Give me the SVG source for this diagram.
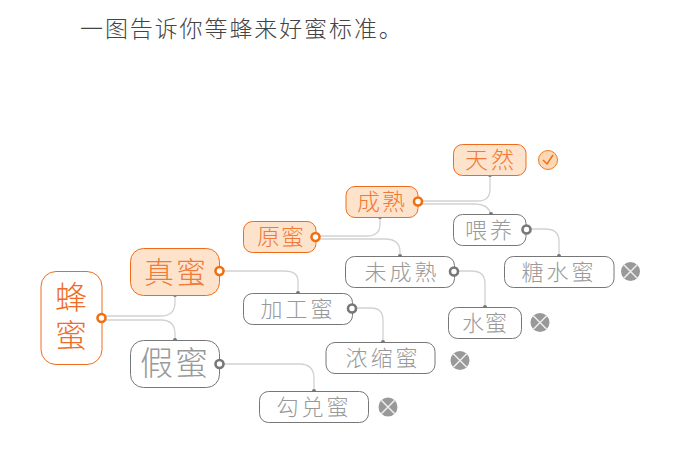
<svg xmlns="http://www.w3.org/2000/svg" width="683" height="453" viewBox="0 0 683 453">
<defs>
<g id="x"><circle r="9.5" fill="#999"/><path d="M-6.700-6.700L6.700 6.700M6.700-6.700L-6.700 6.700" stroke="#eee" stroke-width="1.500"/></g>
</defs>
<style>
text{font-family:"Noto Sans CJK SC","Noto Sans CJK JP",sans-serif;text-anchor:middle;font-weight:300}
.t{fill:#444;font-size:23px;text-anchor:start;letter-spacing:1.9px;font-weight:300}
.o rect{fill:#fde3cb;stroke:#ef6c1a;stroke-width:1}
.o text{fill:#f07a38}
.g rect{fill:#fff;stroke:#777;stroke-width:1}
.g text{fill:#999}
.r rect{fill:#fff;stroke:#ef6c1a;stroke-width:1}
.r text{fill:#ef6c28}
.c path{fill:none;stroke:#d2d2d2;stroke-width:1.3}
.d{fill:#777}
.po{fill:#fff;stroke:#f07010;stroke-width:2.6}
.pg{fill:#fff;stroke:#777;stroke-width:2.6}
</style>
<text class="t" x="80" y="37">一图告诉你等蜂来好蜜标准。</text>
<g id="connectors" class="c">
<path d="M102 316H161Q175 316 175 302V295"/>
<path d="M102 320H161Q175 320 175 334V340"/>
<path d="M220 271H284Q298 271 298 281V293"/>
<path d="M220 364H299Q314 364 314 378V391"/>
<path d="M316 236H367Q380 236 380 224V217"/>
<path d="M316 239H385Q400 239 400 252V256"/>
<path d="M418 201H478Q490 201 490 189V175"/>
<path d="M418 204H475Q488 204 491 214"/>
<path d="M352 308H371Q383 308 383 320V342"/>
<path d="M455 271H471Q485 271 485 283V307"/>
<path d="M526 229H545Q559 229 559 241V256"/>
<g class="d">
<circle cx="175" cy="295" r="2"/><circle cx="175" cy="340" r="2"/><circle cx="298" cy="293" r="2"/><circle cx="314" cy="391" r="2"/><circle cx="380" cy="217" r="2"/><circle cx="400" cy="256" r="2"/><circle cx="490" cy="175" r="2"/><circle cx="491" cy="214" r="2"/><circle cx="383" cy="342" r="2"/><circle cx="485" cy="307" r="2"/><circle cx="559" cy="256" r="2"/>
</g>
</g>
<g id="n-fengmi" class="r"><rect x="41" y="271.500" width="61" height="93" rx="15"/><text x="71" y="319" font-size="32" letter-spacing="6" writing-mode="vertical-rl">蜂蜜</text><circle class="po" cx="101.500" cy="318" r="4"/></g>
<g id="n-zhenmi" class="o"><rect x="130.500" y="248.500" width="89" height="47" rx="13"/><text x="176" y="283" font-size="30" letter-spacing="2">真蜜</text><circle class="po" cx="219.500" cy="271" r="4"/></g>
<g id="n-jiami" class="g"><rect x="130.500" y="340.500" width="89" height="47" rx="13"/><text x="175" y="375" font-size="33" letter-spacing="2">假蜜</text><circle class="pg" cx="219.500" cy="364" r="4"/></g>
<g id="n-yuanmi" class="o"><rect x="243.500" y="221.500" width="72.500" height="31" rx="9"/><text x="281" y="245" font-size="23" letter-spacing="1">原蜜</text><circle class="po" cx="315.500" cy="237" r="4"/></g>
<g id="n-chengshu" class="o"><rect x="346" y="186.500" width="72" height="31" rx="9"/><text x="382" y="210" font-size="23" letter-spacing="2">成熟</text><circle class="po" cx="418" cy="201.500" r="4"/></g>
<g id="n-tianran" class="o"><rect x="453.500" y="144.500" width="72.500" height="31" rx="9"/><text x="491" y="168" font-size="23" letter-spacing="3">天然</text></g>
<g id="check"><circle cx="548" cy="160" r="9.500" fill="#fcd9b4" stroke="#ef7a20"/><path d="M543 160L547 164L553 155" fill="none" stroke="#ee6a10" stroke-width="1.400"/></g>
<g id="n-weiyang" class="g"><rect x="453.500" y="214.500" width="72.500" height="31" rx="9"/><text x="490" y="238" font-size="22" letter-spacing="3">喂养</text><circle class="pg" cx="526.500" cy="229.500" r="4"/></g>
<g id="n-tangshui" class="g"><rect x="504.500" y="256.500" width="109.500" height="31" rx="9"/><text x="559" y="280" font-size="22" letter-spacing="3">糖水蜜</text></g>
<use id="x-tangshui" href="#x" x="630.500" y="271.500"/>
<g id="n-weicheng" class="g"><rect x="345.500" y="256.500" width="109" height="31" rx="9"/><text x="402" y="280" font-size="22" letter-spacing="3">未成熟</text><circle class="pg" cx="454" cy="271.500" r="4"/></g>
<g id="n-shuimi" class="g"><rect x="448.500" y="307.500" width="73" height="31" rx="9"/><text x="485" y="331" font-size="22" letter-spacing="1">水蜜</text></g>
<use id="x-shuimi" href="#x" x="540" y="322.500"/>
<g id="n-jiagong" class="g"><rect x="243.500" y="293.500" width="109" height="31" rx="9"/><text x="298" y="317" font-size="22" letter-spacing="3">加工蜜</text><circle class="pg" cx="352" cy="308.500" r="4"/></g>
<g id="n-nongsuo" class="g"><rect x="326" y="342.500" width="109" height="31" rx="9"/><text x="383" y="366" font-size="22" letter-spacing="3">浓缩蜜</text></g>
<use id="x-nongsuo" href="#x" x="460" y="360.500"/>
<g id="n-goudui" class="g"><rect x="259.500" y="391.500" width="109" height="31" rx="9"/><text x="314" y="415" font-size="22" letter-spacing="3">勾兑蜜</text></g>
<use id="x-goudui" href="#x" x="388" y="407"/>
</svg>
